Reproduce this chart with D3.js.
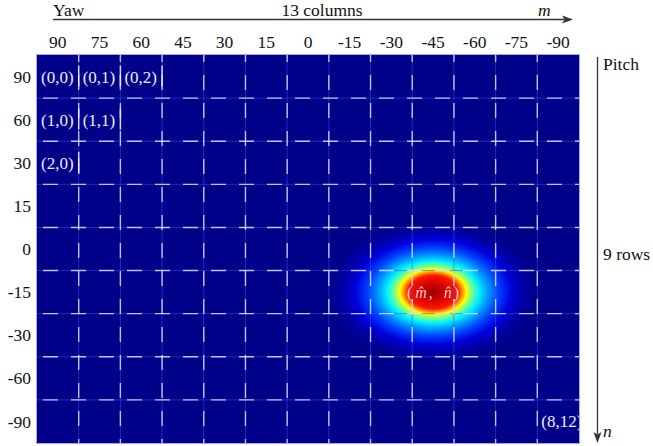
<!DOCTYPE html>
<html>
	<head>
		<title>Yaw / pitch grid</title>
		<style>
* {
	margin: 0;
	padding: 0;
}
html,
body {
	width: 100%;
	height: 100%;
	background-color: white;
}
svg {
	display: block;
}
		</style>
	</head>
	<body>
		<div id="chart"></div>
		<script src="https://cdn.jsdelivr.net/npm/d3@7/dist/d3.min.js"></script>
		<script>

// column (yaw) and row (pitch) tick labels
var yawLabels = [ '90', '75', '60', '45', '30', '15', '0', '-15', '-30', '-45', '-60', '-75', '-90' ];
var pitchLabels = [ '90', '60', '30', '15', '0', '-15', '-30', '-60', '-90' ];

// cells that carry an index label, as [row, column]
var labelledCells = [ [ 0, 0 ], [ 0, 1 ], [ 0, 2 ], [ 1, 0 ], [ 1, 1 ], [ 2, 0 ], [ 8, 12 ] ];

// where the response peaks
var peakYaw = '-45';
var peakPitch = '-15';

var width = 653;
var height = 446;
var serif = '"Liberation Serif", "Times New Roman", Times, "DejaVu Serif", serif';

var svg = d3.select( '#chart' ).append( 'svg' )
	.attr( 'width', width )
	.attr( 'height', height )
	.attr( 'font-family', serif )
	.attr( 'font-size', '17.5px' )
	.style( 'font-family', serif );

var x = d3.scaleBand().domain( yawLabels ).range( [ 37, 579 ] );
var y = d3.scaleBand().domain( pitchLabels ).range( [ 55, 443 ] );

var defs = svg.append( 'defs' );

defs.append( 'clipPath' )
	.attr( 'id', 'map-clip' )
	.append( 'rect' )
	.attr( 'x', x.range()[0] )
	.attr( 'y', y.range()[0] )
	.attr( 'width', x.range()[1] - x.range()[0] )
	.attr( 'height', y.range()[1] - y.range()[0] );

// jet colours, centre outwards
var blobStops = [
	[ 0, '#9a0000' ],
	[ 0.12, '#d40000' ],
	[ 0.24, '#ff1800' ],
	[ 0.28, '#ff8a00' ],
	[ 0.32, '#ffff00' ],
	[ 0.37, '#80ff80' ],
	[ 0.44, '#00f4ff' ],
	[ 0.52, '#00a0ff' ],
	[ 0.63, '#0040ff' ],
	[ 0.75, '#0000dc' ],
	[ 0.87, '#0000a6' ],
	[ 1, '#000088' ]
];

defs.append( 'radialGradient' )
	.attr( 'id', 'blob' )
	.selectAll( 'stop' )
	.data( blobStops )
	.enter()
	.append( 'stop' )
	.attr( 'offset', function ( d ) { return d[0]; } )
	.attr( 'stop-color', function ( d ) { return d[1]; } );

var map = svg.append( 'g' ).attr( 'clip-path', 'url(#map-clip)' );

map.append( 'rect' )
	.attr( 'x', x.range()[0] )
	.attr( 'y', y.range()[0] )
	.attr( 'width', x.range()[1] - x.range()[0] )
	.attr( 'height', y.range()[1] - y.range()[0] )
	.style( 'fill', '#000088' );

var cx = x( peakYaw ) + x.bandwidth() / 2;
var cy = y( peakPitch ) + y.bandwidth() / 2;

map.append( 'ellipse' )
	.attr( 'cx', cx )
	.attr( 'cy', cy )
	.attr( 'rx', 104 )
	.attr( 'ry', 70 )
	.style( 'fill', 'url(#blob)' );

// inner grid lines: thin blue line with white dashes on top
var vLines = yawLabels.slice( 1 );
var hLines = pitchLabels.slice( 1 );

function drawGrid( cls, stroke, strokeWidth, dash ) {
	map.selectAll( 'line.v' + cls )
		.data( vLines )
		.enter()
		.append( 'line' )
		.attr( 'class', 'v' + cls )
		.attr( 'x1', function ( d ) { return x( d ); } )
		.attr( 'x2', function ( d ) { return x( d ); } )
		.attr( 'y1', y.range()[0] )
		.attr( 'y2', y.range()[1] )
		.style( 'stroke', stroke )
		.style( 'stroke-width', strokeWidth )
		.style( 'stroke-dasharray', dash )
		.style( 'stroke-dashoffset', dash ? 8 : null );

	map.selectAll( 'line.h' + cls )
		.data( hLines )
		.enter()
		.append( 'line' )
		.attr( 'class', 'h' + cls )
		.attr( 'x1', x.range()[0] )
		.attr( 'x2', x.range()[1] )
		.attr( 'y1', function ( d ) { return y( d ); } )
		.attr( 'y2', function ( d ) { return y( d ); } )
		.style( 'stroke', stroke )
		.style( 'stroke-width', strokeWidth )
		.style( 'stroke-dasharray', dash )
		.style( 'stroke-dashoffset', dash ? 22 : null );
}

drawGrid( 'thin', 'rgba(40, 90, 235, 0.55)', 1, null );
drawGrid( 'dash', 'rgba(235, 235, 255, 0.8)', 1.4, '15,13' );

// cell index labels
var cellText = map.selectAll( 'g.cell' )
	.data( labelledCells )
	.enter()
	.append( 'g' )
	.attr( 'class', 'cell' );

cellText.append( 'text' )
	.attr( 'x', function ( d ) { return x( yawLabels[d[1]] ) + 4; } )
	.attr( 'y', function ( d ) { return y( pitchLabels[d[0]] ) + y.bandwidth() / 2; } )
	.attr( 'dy', '0.35em' )
	.style( 'fill', '#ececf8' )
	.style( 'font-size', '17px' )
	.text( function ( d ) { return '(' + d[0] + ',' + d[1] + ')'; } );

cellText.filter( function ( d ) { return d[1] < yawLabels.length - 1; } )
	.append( 'line' )
	.attr( 'x1', function ( d ) { return x( yawLabels[d[1]] ) + x.bandwidth(); } )
	.attr( 'x2', function ( d ) { return x( yawLabels[d[1]] ) + x.bandwidth(); } )
	.attr( 'y1', function ( d ) { return y( pitchLabels[d[0]] ) + y.bandwidth() / 2 - 11; } )
	.attr( 'y2', function ( d ) { return y( pitchLabels[d[0]] ) + y.bandwidth() / 2 + 10; } )
	.style( 'stroke', 'rgba(240, 240, 255, 0.9)' )
	.style( 'stroke-width', 1.5 );

// peak label
var peak = map.append( 'text' )
	.attr( 'x', cx )
	.attr( 'y', cy )
	.attr( 'dy', '0.35em' )
	.attr( 'text-anchor', 'middle' )
	.style( 'fill', 'rgba(255, 235, 235, 0.85)' )
	.style( 'font-size', '16px' );
peak.append( 'tspan' ).text( '(' );
peak.append( 'tspan' ).attr( 'dx', 3 ).style( 'font-style', 'italic' ).text( 'm\u0302' );
peak.append( 'tspan' ).attr( 'dx', 2 ).text( ',' );
peak.append( 'tspan' ).attr( 'dx', 11 ).style( 'font-style', 'italic' ).text( 'n\u0302' );
peak.append( 'tspan' ).attr( 'dx', 2 ).text( ')' );

// soft edge of the map
svg.append( 'rect' )
	.attr( 'x', x.range()[0] - 0.5 )
	.attr( 'y', y.range()[0] - 0.5 )
	.attr( 'width', x.range()[1] - x.range()[0] + 1 )
	.attr( 'height', y.range()[1] - y.range()[0] + 1 )
	.style( 'fill', 'none' )
	.style( 'stroke', 'rgba(110, 110, 210, 0.6)' )
	.style( 'stroke-width', 1 );

// tick labels
svg.selectAll( 'text.yaw' )
	.data( yawLabels )
	.enter()
	.append( 'text' )
	.attr( 'class', 'yaw' )
	.attr( 'x', function ( d ) { return x( d ) + x.bandwidth() / 2; } )
	.attr( 'y', 47.5 )
	.attr( 'text-anchor', 'middle' )
	.style( 'fill', '#111' )
	.text( function ( d ) { return d; } );

svg.selectAll( 'text.pitch' )
	.data( pitchLabels )
	.enter()
	.append( 'text' )
	.attr( 'class', 'pitch' )
	.attr( 'x', 31 )
	.attr( 'y', function ( d ) { return y( d ) + y.bandwidth() / 2; } )
	.attr( 'dy', '0.35em' )
	.attr( 'text-anchor', 'end' )
	.style( 'fill', '#111' )
	.text( function ( d ) { return d; } );

// direction arrows
var axisColor = '#333';

svg.append( 'line' )
	.attr( 'x1', 53 ).attr( 'x2', 564 )
	.attr( 'y1', 19.5 ).attr( 'y2', 19.5 )
	.style( 'stroke', axisColor )
	.style( 'stroke-width', 1.3 );
svg.append( 'path' )
	.attr( 'd', 'M562,15.5 L573,19.5 L562,23.5 L564.5,19.5 Z' )
	.style( 'fill', axisColor );

svg.append( 'line' )
	.attr( 'x1', 597.5 ).attr( 'x2', 597.5 )
	.attr( 'y1', 57 ).attr( 'y2', 434 )
	.style( 'stroke', axisColor )
	.style( 'stroke-width', 1.3 );
svg.append( 'path' )
	.attr( 'd', 'M593.5,432 L597.5,443 L601.5,432 L597.5,434.5 Z' )
	.style( 'fill', axisColor );

var titles = svg.append( 'g' ).style( 'fill', '#111' );
titles.append( 'text' ).attr( 'x', 53 ).attr( 'y', 15.5 ).text( 'Yaw' );
titles.append( 'text' ).attr( 'x', 322 ).attr( 'y', 15.5 ).attr( 'text-anchor', 'middle' ).text( '13 columns' );
titles.append( 'text' ).attr( 'x', 538 ).attr( 'y', 15.5 ).style( 'font-style', 'italic' ).text( 'm' );
titles.append( 'text' ).attr( 'x', 603 ).attr( 'y', 70 ).text( 'Pitch' );
titles.append( 'text' ).attr( 'x', 603 ).attr( 'y', 260 ).text( '9 rows' );
titles.append( 'text' ).attr( 'x', 603 ).attr( 'y', 437 ).style( 'font-style', 'italic' ).text( 'n' );

		</script>
	</body>
</html>
